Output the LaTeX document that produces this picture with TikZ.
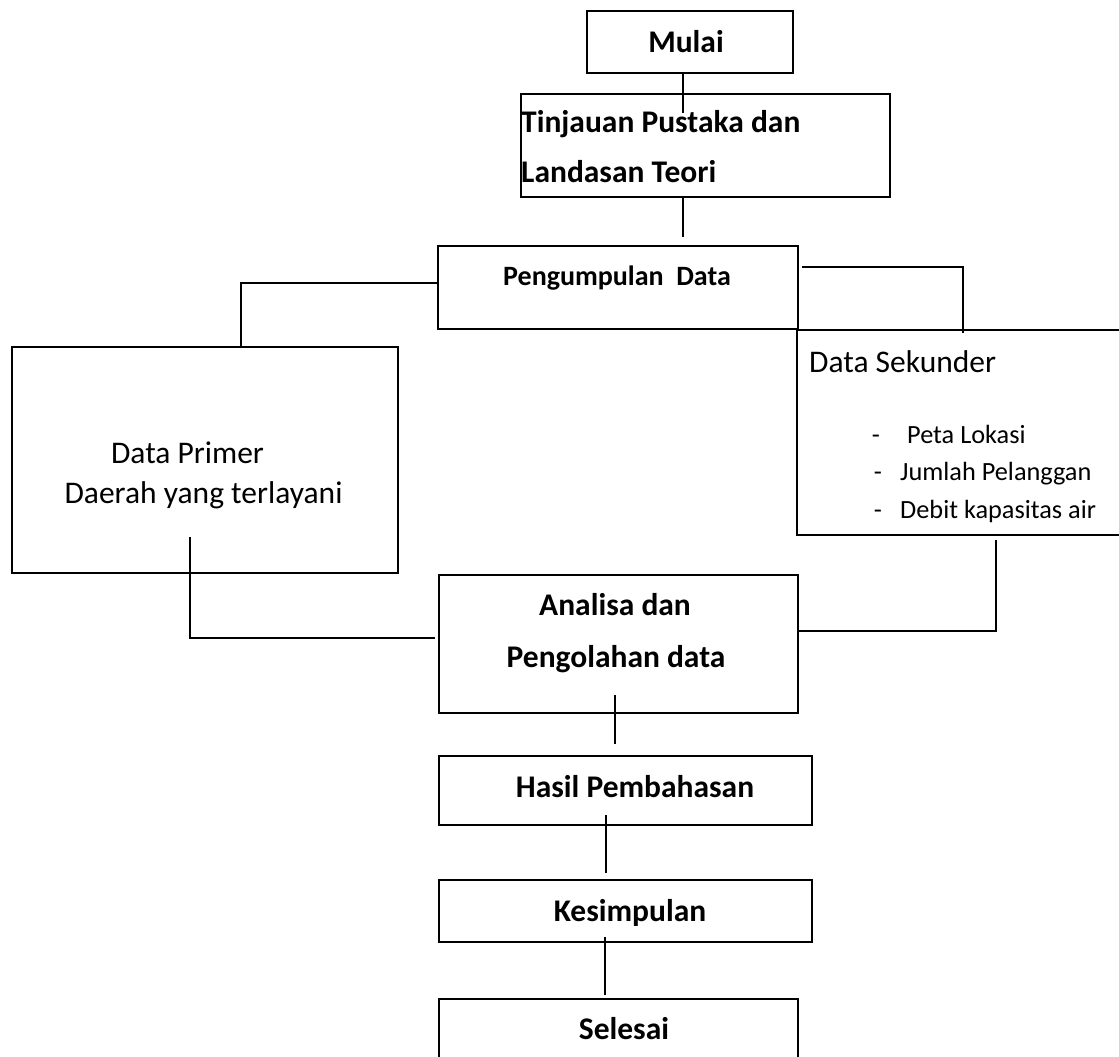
\documentclass[tikz,border=0pt]{standalone}
\usepackage{fontspec}
\setmainfont{Carlito}
\begin{document}
\begin{tikzpicture}[x=1pt,y=-1pt,
  box/.style={draw, line width=2.3pt, rectangle, inner sep=0pt, outer sep=0pt},
  conn/.style={line width=2.3pt},
  bt/.style={font=\fontsize{31.5}{38}\selectfont\bfseries, inner sep=0pt, anchor=base},
  rt/.style={font=\fontsize{31.5}{38}\selectfont, inner sep=0pt, anchor=base},
  lt/.style={font=\fontsize{26.3}{31}\selectfont, inner sep=0pt, anchor=base west}]
\useasboundingbox (0,0) rectangle (1119,1057);
\clip (0,0) rectangle (1119,1057);

% boxes
\node[box, minimum width=206, minimum height=62] (mulai) at (690,42) {};
\node[box, minimum width=369, minimum height=103] (tinjauan) at (705.5,145.5) {};
\node[box, minimum width=360, minimum height=83] (kumpul) at (618,287.5) {};
\node[box, minimum width=386, minimum height=226] (primer) at (205,460) {};
\node[box, minimum width=340, minimum height=205] (sekunder) at (967,432.5) {};
\node[box, minimum width=359, minimum height=138] (analisa) at (618.5,644) {};
\node[box, minimum width=373, minimum height=69] (hasil) at (625.5,790.5) {};
\node[box, minimum width=373, minimum height=62] (simpul) at (625.5,911) {};
\node[box, minimum width=359, minimum height=80] (selesai) at (618.5,1039) {};

% texts
\node[bt] (tmulai) at (686,53) {Mulai};
\node[bt, anchor=base west] (ttin1) at (521,132) {Tinjauan Pustaka dan};
\node[bt, anchor=base west] (ttin2) at (521,182) {Landasan Teori};
\node[bt, font=\fontsize{28}{34}\selectfont\bfseries] (tkumpul) at (617,285) {Pengumpulan~~Data};
\node[rt] (tprim1) at (187.5,463) {Data Primer};
\node[rt] (tprim2) at (203.5,503) {Daerah yang terlayani};
\node[rt, anchor=base west] (tsek) at (809,372) {Data Sekunder};
\node[lt, anchor=base] (d1) at (876,443) {-};
\node[lt] (l1) at (907,443) {Peta Lokasi};
\node[lt, anchor=base] (d2) at (878,480) {-};
\node[lt] (l2) at (900,480) {Jumlah Pelanggan};
\node[lt, anchor=base] (d3) at (878,518) {-};
\node[lt] (l3) at (900,518) {Debit kapasitas air};
\node[bt] (tana1) at (615,615) {Analisa dan};
\node[bt] (tana2) at (616,667) {Pengolahan data};
\node[bt] (thasil) at (635,797) {Hasil Pembahasan};
\node[bt] (tsimpul) at (630,921) {Kesimpulan};
\node[bt] (tselesai) at (624,1039) {Selesai};

% free connector ends
\coordinate (c1) at (683,113);
\coordinate (c2) at (683,237);
\coordinate (c3) at (241,283);
\coordinate (c4) at (963,267);
\coordinate (c5) at (963,333);
\coordinate (c6) at (190,537);
\coordinate (c7) at (190,638);
\coordinate (c8) at (435,638);
\coordinate (c9) at (996,540);
\coordinate (c10) at (996,631);
\coordinate (c11) at (615,695);
\coordinate (c12) at (615,744);
\coordinate (c13) at (606,815);
\coordinate (c14) at (606,873);
\coordinate (c15) at (605,937);
\coordinate (c16) at (605,995);
\coordinate (c17) at (802,267);

% connectors
\draw[conn] (mulai.south -| c1) -- (c1);
\draw[conn] (tinjauan.south -| c2) -- (c2);
\draw[conn] (kumpul.west |- c3) -- (c3) -- (primer.north -| c3);
\draw[conn] (c17) -- (c4) -- (c5);
\draw[conn] (c6) -- (c7) -- (c8);
\draw[conn] (c9) -- (c10) -- (analisa.east |- c10);
\draw[conn] (c11) -- (c12);
\draw[conn] (c13) -- (c14);
\draw[conn] (c15) -- (c16);
\end{tikzpicture}
\end{document}
